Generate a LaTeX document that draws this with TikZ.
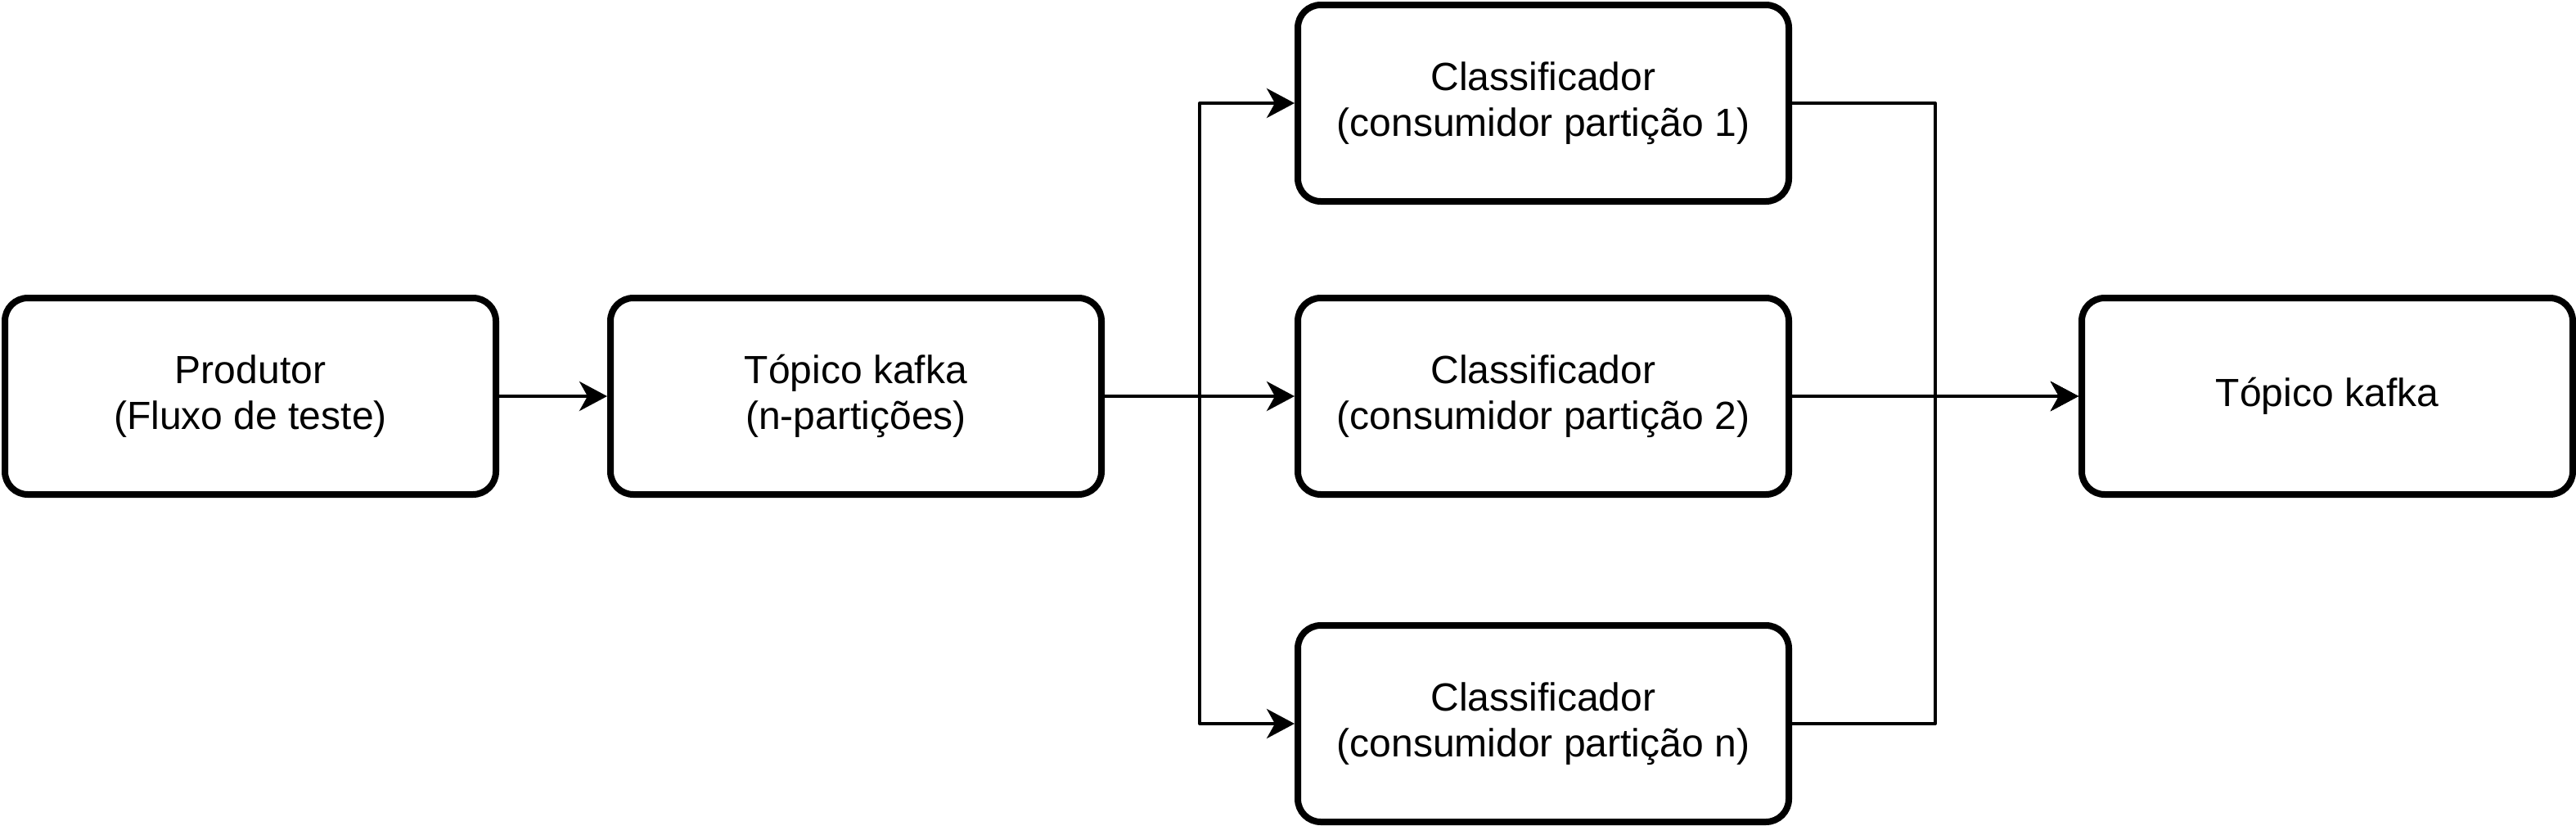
\documentclass[tikz,border=0pt]{standalone}
\usepackage{fontspec}
\setmainfont{Liberation Sans}
\usetikzlibrary{arrows.meta,calc}

\begin{document}
\begin{tikzpicture}[x=1pt, y=-1pt, line join=round,
  caixa/.style={draw, line width=2pt, rounded corners=7pt, minimum width=150pt, minimum height=60pt,
    inner sep=0pt, align=center, font=\fontsize{12}{14}\selectfont},
  seta/.style={line width=1pt, -{Stealth[length=8.5pt, width=9pt, inset=2.5pt]}}]
\useasboundingbox (0,0) rectangle (787,252);
% caixas
\node[caixa] (prod)  at (76.5,121)  {Produtor\\(Fluxo de teste)};
\node[caixa] (topic) at (261.5,121) {Tópico kafka\\(n-partições)};
\node[caixa] (c1)    at (471.5,31.5) {Classificador\\(consumidor partição 1)};
\node[caixa] (c2)    at (471.5,121)  {Classificador\\(consumidor partição 2)};
\node[caixa] (cn)    at (471.5,221)  {Classificador\\(consumidor partição n)};
\node[caixa] (out)   at (711,121)    {Tópico kafka};
\coordinate (split) at ($(topic.east)!0.5!(c2.west)$);
\coordinate (merge) at ($(c2.east)!0.5!(out.west)$);
% ligacoes
\draw[seta] (prod)--(topic);
\draw[seta] (topic.east)--(c2.west);
\draw[seta] (topic.east)--(split)|-(c1.west);
\draw[seta] (topic.east)--(split)|-(cn.west);
\draw[seta] (c2.east)--(out.west);
\draw[seta] (c1.east)-|(merge)--(out.west);
\draw[seta] (cn.east)-|(merge)--(out.west);
\end{tikzpicture}
\end{document}
